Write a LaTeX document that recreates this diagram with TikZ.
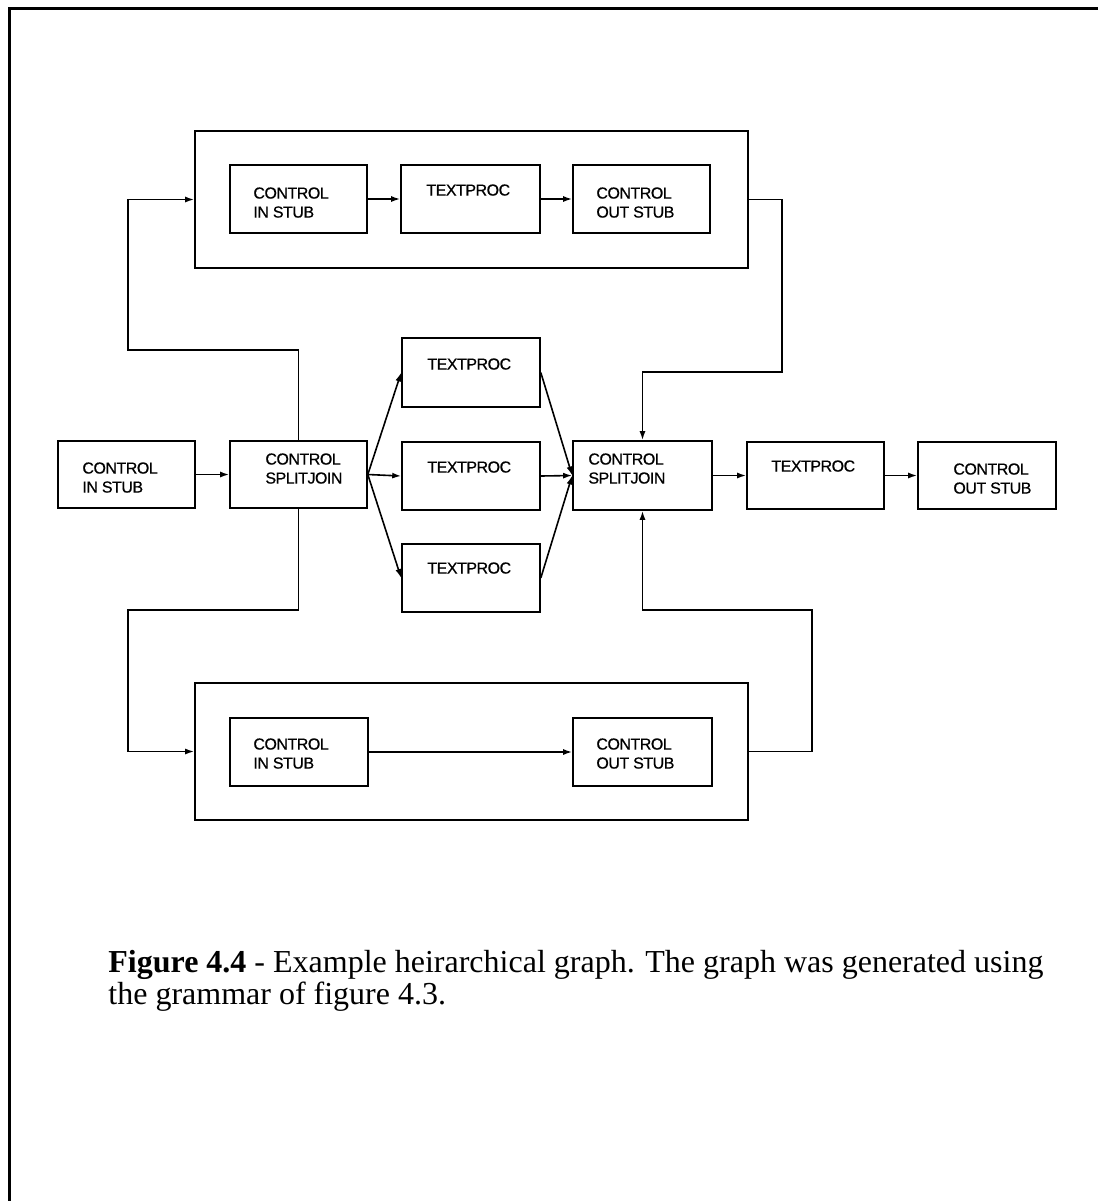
\documentclass[tikz,border=0pt]{standalone}
\usepackage{fontspec}
\setmainfont{Liberation Serif}
\newfontfamily\boxfont[FakeBold=0.6,LetterSpace=-3]{Liberation Sans}
\usetikzlibrary{arrows.meta,fit,calc}

\tikzset{
  box/.style={draw, line width=0.8pt, inner sep=0pt},
  lbl/.style={anchor=north west, inner sep=0pt, align=left,
    font=\boxfont\fontsize{8}{9.5}\selectfont},
  flow/.style={line width=0.8pt, -{Latex[length=4.5pt,width=3pt]}},
  frame/.style={line width=1.5pt}
}

% \blk{name}{x1}{y1}{x2}{y2}{text x}{text y}{text}
\newcommand\blk[8]{%
  \node[box, fit={(#2,#3) (#4,#5)}] (#1) {};
  \node[lbl] (#1-t) at (#6,#7) {#8};
}

\begin{document}
\begin{tikzpicture}[x=0.5pt,y=-0.5pt]
\useasboundingbox (0,0) rectangle (1098,1201);

% page frame (left and top edges)
\coordinate (f0) at (9,1201);
\coordinate (f1) at (9,8);
\coordinate (f2) at (1098,8);
\draw[frame] (f0) -- (f1) -- (f2);

% top composite
\node[box, fit={(195,131) (748,268)}] (topC) {};
\blk{tIn}{230}{165}{367}{233}{253}{187}{CONTROL\\IN STUB}
\blk{tTP}{401}{165}{540}{233}{426}{184}{TEXTPROC}
\blk{tOut}{573}{165}{710}{233}{596}{187}{CONTROL\\OUT STUB}

% middle row
\blk{mIn}{58}{441}{195}{508}{82}{462}{CONTROL\\IN STUB}
\blk{lSJ}{230}{441}{367}{508}{265}{453}{CONTROL\\SPLITJOIN}
\blk{tp1}{402}{338}{540}{407}{427}{358}{TEXTPROC}
\blk{tp2}{402}{442}{540}{510}{427}{461}{TEXTPROC}
\blk{tp3}{402}{544}{540}{612}{427}{562}{TEXTPROC}
\blk{rSJ}{573}{441}{712}{510}{588}{453}{CONTROL\\SPLITJOIN}
\blk{rTP}{747}{442}{884}{509}{771}{460}{TEXTPROC}
\blk{rOut}{918}{442}{1056}{509}{953}{463}{CONTROL\\OUT STUB}

% bottom composite
\node[box, fit={(195,683) (748,820)}] (botC) {};
\blk{bIn}{230}{718}{368}{786}{253}{738}{CONTROL\\IN STUB}
\blk{bOut}{573}{718}{712}{786}{596}{738}{CONTROL\\OUT STUB}

% routing corners
\coordinate (a1) at (128,350);
\coordinate (b1) at (782,372);
\coordinate (c1) at (128,610);
\coordinate (d1) at (812,610);

% connectors
\draw[flow] (tIn.east) -- (tTP.west);
\draw[flow] (tTP.east) -- (tOut.west);
\draw[flow] (bIn.east) -- (bOut.west);

\draw[flow] (mIn.east) -- (mIn.east -| lSJ.west);
\draw[flow] (lSJ.north) |- (a1) |- (topC.west);
\draw[flow] (lSJ.south) |- (c1) |- (botC.west);
\draw[flow] (topC.east) -| (b1) -| (rSJ.north);
\draw[flow] (botC.east) -| (d1) -| (rSJ.south);

\draw[flow] (lSJ.east) -- (tp1.west);
\draw[flow] (lSJ.east) -- (tp2.west);
\draw[flow] (lSJ.east) -- (tp3.west);
\draw[flow] (tp1.east) -- (rSJ.west);
\draw[flow] (tp2.east) -- (rSJ.west);
\draw[flow] (tp3.east) -- (rSJ.west);

\draw[flow] (rSJ.east) -- (rTP.west);
\draw[flow] (rTP.east) -- (rOut.west);

% caption
\node[anchor=north west, inner sep=0pt, align=left,
      font=\fontsize{16}{16}\selectfont] (cap) at (108,950)
  {\textbf{Figure 4.4} - Example heirarchical graph. The graph was generated using\\
   the grammar of figure 4.3.};
\end{tikzpicture}
\end{document}
